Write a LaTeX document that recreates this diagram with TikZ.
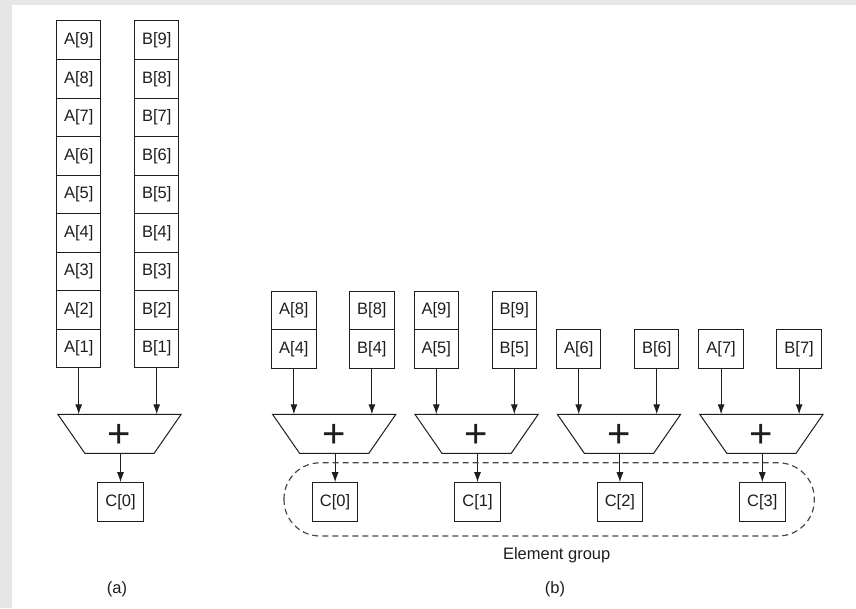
\documentclass[tikz,border=0pt]{standalone}
\usepackage{fontspec}
\setmainfont{Liberation Sans}
\usetikzlibrary{arrows.meta}

\definecolor{ink}{HTML}{1E1E1E}
\definecolor{frame}{HTML}{E6E6E6}
\definecolor{groupline}{HTML}{484848}

\tikzset{
  cell/.style={draw=ink, line width=1pt, minimum width=44.5pt, minimum height=38.6pt,
    inner sep=0pt, text=ink, font=\fontsize{16.5}{16.5}\selectfont},
  outcell/.style={cell, minimum width=45.5pt, minimum height=39pt},
  adderbody/.style={draw=ink, line width=1pt, line join=miter},
  plussign/.style={inner sep=0pt, text=ink, font=\fontsize{40}{40}\selectfont},
  feed/.style={draw=ink, line width=1pt, -{Latex[length=10pt,width=7pt]}},
  caption/.style={inner sep=0pt, text=ink, font=\fontsize{16.5}{16.5}\selectfont},
}

% an adder: trapezoid with named corners and a plus sign in the middle
% #1 = name, #2 = centre x
\newcommand\adderunit[2]{%
  \coordinate (#1-tl) at ({#2-61.65}, 414.3);
  \coordinate (#1-tr) at ({#2+61.65}, 414.3);
  \coordinate (#1-br) at ({#2+34.65}, 453.3);
  \coordinate (#1-bl) at ({#2-34.65}, 453.3);
  \draw[adderbody] (#1-tl) -- (#1-tr) -- (#1-br) -- (#1-bl) -- cycle;
  \node[plussign] (#1) at ([yshift=-2.5pt]{#2}, 433.8) {+};
}

\begin{document}
\begin{tikzpicture}[x=1pt,y=-1pt]
  % page frame
  \fill[frame] (0,0) rectangle (856,608);
  \fill[white] (12,5) rectangle (856,608);
  \useasboundingbox (0,0) rectangle (856,608);

  % ---------------- (a): one adder fed by the full vectors ----------------
  \foreach \k in {1,...,9} {
    \node[cell] (a\k) at (78.7, {21 + (9-\k)*38.55 + 19.28}) {A[\k]};
    \node[cell] (b\k) at (156.7, {21 + (9-\k)*38.55 + 19.28}) {B[\k]};
  }
  \adderunit{sa}{119.5}
  \node[outcell] (ca) at (120.5, 502.2) {C[0]};
  \draw[feed] (a1.south) -- (a1.south |- sa-tl);
  \draw[feed] (b1.south) -- (b1.south |- sa-tl);
  \draw[feed] (ca.north |- sa-bl) -- (ca.north);
  \node[caption] (capa) at (117, 589) {(a)};

  % ---------------- (b): four adders working on element groups ----------------
  % first group: two-deep columns
  \node[cell] (p0a8) at (293.9, 310.5) {A[8]};
  \node[cell] (p0a4) at (293.9, 349.1) {A[4]};
  \node[cell] (p0b8) at (371.9, 310.5) {B[8]};
  \node[cell] (p0b4) at (371.9, 349.1) {B[4]};
  % second group
  \node[cell] (p1a9) at (436.3, 310.5) {A[9]};
  \node[cell] (p1a5) at (436.3, 349.1) {A[5]};
  \node[cell] (p1b9) at (514.3, 310.5) {B[9]};
  \node[cell] (p1b5) at (514.3, 349.1) {B[5]};
  % third and fourth groups: single elements
  \node[cell] (p2a6) at (578.7, 349.1) {A[6]};
  \node[cell] (p2b6) at (656.7, 349.1) {B[6]};
  \node[cell] (p3a7) at (721.1, 349.1) {A[7]};
  \node[cell] (p3b7) at (799.1, 349.1) {B[7]};

  \foreach \i/\x/\ta/\tb in {0/271.7/p0a4/p0b4, 1/414.1/p1a5/p1b5, 2/556.5/p2a6/p2b6, 3/698.9/p3a7/p3b7} {
    \adderunit{s\i}{\x+62.5}
    \node[outcell] (c\i) at ({\x+63.4}, 502.2) {C[\i]};
    \draw[feed] (\ta.south) -- (\ta.south |- s\i-tl);
    \draw[feed] (\tb.south) -- (\tb.south |- s\i-tl);
    \draw[feed] (c\i.north |- s\i-bl) -- (c\i.north);
  }

  % the element group enclosing the results
  \draw[groupline, line width=1.2pt, dash pattern=on 6pt off 4pt, rounded corners=36pt]
    (284, 462.8) rectangle (814.3, 536);
  \node[caption] (grp) at (556.7, 555) {Element group};
  \node[caption] (capb) at (555, 589) {(b)};
\end{tikzpicture}
\end{document}
